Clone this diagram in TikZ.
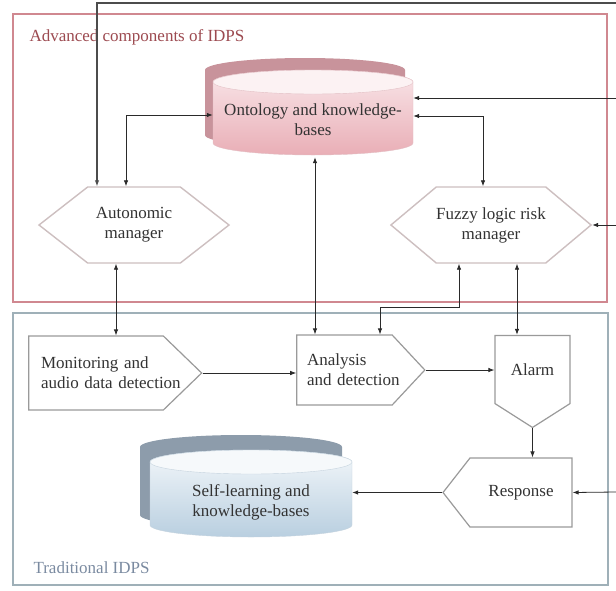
\documentclass[tikz,border=0pt]{standalone}
\usepackage{fontspec}
\setmainfont{Liberation Serif}
\usepackage{tikz}
\usetikzlibrary{shapes.symbols,arrows.meta}

\definecolor{redframe}{HTML}{D08890}
\definecolor{blueframe}{HTML}{9FB0B8}
\definecolor{hexline}{HTML}{CDBFC0}
\definecolor{boxline}{HTML}{9A9A9A}
\definecolor{linecol}{HTML}{2A2A2A}
\definecolor{txtgray}{HTML}{333333}
\definecolor{advred}{HTML}{9C4A50}
\definecolor{tradblue}{HTML}{7A8AA0}
\definecolor{ontrim}{HTML}{C8939B}
\definecolor{ontline}{HTML}{E3C0C5}
\definecolor{ontcap}{HTML}{FCF2F3}
\definecolor{onttop}{HTML}{F9E6E9}
\definecolor{ontbot}{HTML}{E9AEB6}
\definecolor{kbrim}{HTML}{8D9CAB}
\definecolor{kbline}{HTML}{C5D3DE}
\definecolor{kbcap}{HTML}{F6F9FB}
\definecolor{kbtop}{HTML}{F3F7FA}
\definecolor{kbbot}{HTML}{B9CFE0}

\begin{document}
\begin{tikzpicture}[x=1pt, y=-1pt,
                    every node/.style={font=\fontsize{17}{20}\selectfont, text=txtgray},
                    hexa/.style={signal, signal to=east and west, draw=hexline, line width=1.4pt,
                                 fill=white, minimum width=190pt, minimum height=76pt,
                                 signal pointer angle=80, align=center, inner sep=0pt},
                    stage/.style={signal, draw=boxline, line width=1.2pt, fill=white, inner sep=0pt},
                    dbtext/.style={minimum width=200pt, minimum height=74pt, align=center, inner sep=0pt},
                    arr/.style={-{Latex[length=6pt,width=4.5pt]}, line width=0.8pt, draw=linecol},
                    biarr/.style={{Latex[length=6pt,width=4.5pt]}-{Latex[length=6pt,width=4.5pt]},
                                  line width=0.8pt, draw=linecol}]
  \useasboundingbox (0,0) rectangle (616,590);

  % the two frames
  \draw[redframe, line width=1.2pt] (13,14) rectangle (607,302);
  \draw[blueframe, line width=1.2pt] (13,313) rectangle (608,585);
  \node[anchor=west, text=advred] (advtitle) at (26,37) {Advanced components of IDPS};
  \node[anchor=west, text=tradblue] (tradtitle) at (30,568) {Traditional IDPS};

  % ontology store
  \fill[ontrim] (205,70) -- (205,135) arc[start angle=180, end angle=0, x radius=100, y radius=12]
    -- (405,70) arc[start angle=0, end angle=-180, x radius=100, y radius=12] -- cycle;
  \shade[top color=onttop, bottom color=ontbot, draw=ontline] (213,82) -- (213,143)
    arc[start angle=180, end angle=0, x radius=100, y radius=12]
    -- (413,82) arc[start angle=0, end angle=-180, x radius=100, y radius=12] -- cycle;
  \filldraw[fill=ontcap, draw=ontline] (313,82) ellipse [x radius=100, y radius=12];
  \node[dbtext] (onto) at (313,120) {Ontology and knowledge-\\bases};

  % self-learning store
  \fill[kbrim] (140,447) -- (140,515) arc[start angle=180, end angle=0, x radius=101, y radius=12]
    -- (342,447) arc[start angle=0, end angle=-180, x radius=101, y radius=12] -- cycle;
  \shade[top color=kbtop, bottom color=kbbot, draw=kbline] (150,462) -- (150,525)
    arc[start angle=180, end angle=0, x radius=101, y radius=12]
    -- (352,462) arc[start angle=0, end angle=-180, x radius=101, y radius=12] -- cycle;
  \filldraw[fill=kbcap, draw=kbline] (251,462) ellipse [x radius=101, y radius=12];
  \node[dbtext, minimum width=202pt] (selfkb) at (251,502) {Self-learning and\\knowledge-bases};

  % managers
  \node[hexa, signal pointer angle=76] (auto) at (134,225) {Autonomic\\manager};
  \node[hexa, minimum width=188pt] (fuzzy) at (491,225) {Fuzzy logic risk\\manager};

  % IDPS stages
  \node[stage, signal to=east, minimum width=173pt, minimum height=74pt, inner xsep=12pt,
        text width=110pt, signal pointer angle=88, align=left] (monitor) at (96,373)
        {Monitoring and\\\mbox{audio data detection}};
  \node[stage, signal to=east, minimum width=128pt, minimum height=70pt, inner xsep=10pt,
        text width=75pt, signal pointer angle=94, align=left] (analysis) at (344.5,370)
        {Analysis\\\mbox{and detection}};
  \node[stage, signal to=south, minimum width=75pt, minimum height=82pt,
        signal pointer angle=115] (alarm) at (532.5,369.5) {Alarm};
  \node[stage, signal to=west, minimum width=129pt, minimum height=69pt,
        signal pointer angle=104] (response) at (521,492.5) {Response};

  % feedback coming in from the right
  \coordinate (fbtop) at (616,3);
  \coordinate (fbonto) at (616,98);
  \coordinate (fbfuzzy) at (616,225);
  \coordinate (fbresp) at (616,492);
  \draw[arr, line width=1.1pt, draw=black!70] (fbtop) -| ([xshift=-37pt]auto.north);
  \draw[arr] (fbonto) -- (onto.east |- fbonto);
  \draw[arr] (fbfuzzy) -- (fuzzy.east);
  \draw[arr] (fbresp) -- (response.east);

  % links between the layers
  \draw[biarr] ([xshift=-8pt]auto.north) |- ([yshift=5pt]onto.west);
  \draw[biarr] ([xshift=-8pt]fuzzy.north) |- ([yshift=4pt]onto.east);
  \draw[biarr] ([xshift=2pt]onto.south) -- ([xshift=2pt]onto.south |- analysis.north);
  \draw[biarr] ([xshift=-18pt]auto.south) -- ([xshift=-18pt]auto.south |- monitor.north);
  \draw[biarr] ([xshift=-32pt]fuzzy.south) -- ++(0,44) -| ([xshift=35.5pt]analysis.north);
  \draw[biarr] ([xshift=26pt]fuzzy.south) -- ([xshift=26pt]fuzzy.south |- alarm.north);

  % main chain
  \draw[arr] (monitor.east) -- (monitor.east -| analysis.west);
  \draw[arr] (analysis.east) -- (analysis.east -| alarm.west);
  \draw[arr] (alarm.south) -- (alarm.south |- response.north);
  \draw[arr] (response.west) -- (response.west -| selfkb.east);
\end{tikzpicture}
\end{document}
